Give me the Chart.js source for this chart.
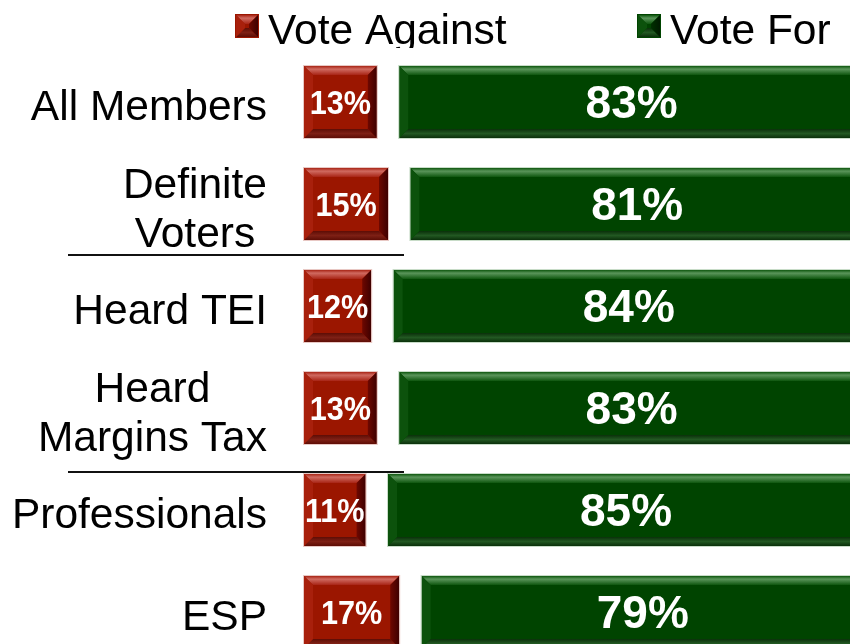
<!DOCTYPE html>
<html>
<head>
<meta charset="utf-8">
<script src="https://cdn.jsdelivr.net/npm/chart.js@4"></script>
<style>
html,body{margin:0;padding:0;background:#fff;overflow:hidden;width:850px;height:644px;}
#wrap{position:absolute;left:0;top:0;width:864px;height:700px;}
</style>
</head>
<body>
<div id="wrap"><canvas id="c" width="864" height="700"></canvas></div>
<script>
// ---- data ----
const categories = [["All Members"], ["Definite", "Voters"], ["Heard TEI"], ["Heard", "Margins Tax"], ["Professionals"], ["ESP"]];
const voteAgainst = [13, 15, 12, 13, 11, 17];
const undecided = [4, 4, 4, 4, 4, 4];
const voteFor = [83, 81, 84, 83, 85, 79];
const seriesNames = ["Vote Against", "Undecided", "Vote For"];
const separatorsAfter = [1, 3];

const FONT = '"Liberation Sans", Arial, sans-serif';

const palette = {
  red:   {face:'#9b1600', top:['#d06a60','#a82415'], bottom:['#7e2015','#5e0d05'], left:'#a8200c', right:['#6e0800','#3e0000'], edge:'#e8c8c4'},
  green: {face:'#004400', top:['#5a955a','#0e560e'], bottom:['#225822','#0a300a'], left:'#0c520c', right:['#003000','#001a00'], edge:'#c8dcc8'}
};

function bevel(ctx, l, t, r, b, p) {
  const w = 9;
  ctx.save();
  let g = ctx.createLinearGradient(0, t, 0, t + w);
  g.addColorStop(0, p.top[1]); g.addColorStop(0.35, p.top[0]); g.addColorStop(1, p.top[1]);
  ctx.fillStyle = g;
  ctx.beginPath(); ctx.moveTo(l, t); ctx.lineTo(r, t); ctx.lineTo(r - w, t + w); ctx.lineTo(l + w, t + w); ctx.closePath(); ctx.fill();
  g = ctx.createLinearGradient(0, b - w, 0, b);
  g.addColorStop(0, p.bottom[1]); g.addColorStop(0.5, p.bottom[0]); g.addColorStop(1, p.bottom[1]);
  ctx.fillStyle = g;
  ctx.beginPath(); ctx.moveTo(l, b); ctx.lineTo(r, b); ctx.lineTo(r - w, b - w); ctx.lineTo(l + w, b - w); ctx.closePath(); ctx.fill();
  ctx.fillStyle = p.left;
  ctx.beginPath(); ctx.moveTo(l, t); ctx.lineTo(l + w, t + w); ctx.lineTo(l + w, b - w); ctx.lineTo(l, b); ctx.closePath(); ctx.fill();
  g = ctx.createLinearGradient(r - w, 0, r, 0);
  g.addColorStop(0, p.right[0]); g.addColorStop(1, p.right[1]);
  ctx.fillStyle = g;
  ctx.beginPath(); ctx.moveTo(r, t); ctx.lineTo(r - w, t + w); ctx.lineTo(r - w, b - w); ctx.lineTo(r, b); ctx.closePath(); ctx.fill();
  ctx.strokeStyle = p.edge; ctx.lineWidth = 1;
  ctx.strokeRect(l - 0.5, t - 0.5, r - l + 1, b - t + 1);
  ctx.restore();
}

const decorPlugin = {
  id: 'decor',
  afterDatasetsDraw(chart) {
    const ctx = chart.ctx;
    const yScale = chart.scales.y;
    [[0, palette.red], [2, palette.green]].forEach(([di, pal]) => {
      const meta = chart.getDatasetMeta(di);
      meta.data.forEach((el, i) => {
        const pr = el.getProps(['x', 'y', 'base', 'height'], true);
        const l = Math.min(pr.base, pr.x), r = Math.max(pr.base, pr.x);
        const t = pr.y - pr.height / 2, b = pr.y + pr.height / 2;
        bevel(ctx, l, t, r, b, pal);
        const v = chart.data.datasets[di].data[i];
        ctx.save();
        ctx.fillStyle = '#ffffff';
        ctx.textAlign = 'center';
        ctx.textBaseline = 'middle';
        const cx = (l + r) / 2, cy = pr.y + 3;
        if (di === 0) {
          ctx.translate(cx, cy);
          ctx.scale(0.9, 1);
          ctx.font = 'bold 34px ' + FONT;
          ctx.fillText(v + '%', 0, 0);
        } else {
          ctx.font = 'bold 46px ' + FONT;
          ctx.fillText(v + '%', cx, cy);
        }
        ctx.restore();
      });
    });
    ctx.save();
    ctx.font = '42.5px ' + FONT;
    ctx.fillStyle = '#000000';
    ctx.textBaseline = 'alphabetic';
    ctx.textAlign = 'center';
    const lh = 49, rightEdge = 267;
    categories.forEach((lines, i) => {
      const cy = yScale.getPixelForValue(i) + 3;
      const maxW = Math.max(...lines.map(s => ctx.measureText(s).width));
      const cx = rightEdge - maxW / 2;
      lines.forEach((s, k) => {
        const lineCenter = cy + (k - (lines.length - 1) / 2) * lh;
        ctx.fillText(s, cx, lineCenter + 15);
      });
    });
    ctx.restore();
    ctx.save();
    ctx.strokeStyle = '#111111';
    ctx.lineWidth = 2;
    const offs = [51, 64];
    separatorsAfter.forEach((idx, k) => {
      const y = Math.round(yScale.getPixelForValue(idx) + offs[k]);
      ctx.beginPath(); ctx.moveTo(68, y); ctx.lineTo(404, y); ctx.stroke();
    });
    ctx.restore();
    ctx.save();
    ctx.beginPath(); ctx.rect(0, 0, 864, 48); ctx.clip();
    const items = [[0, 236, palette.red], [2, 638, palette.green]];
    items.forEach(([di, x, pal]) => {
      ctx.fillStyle = pal.face;
      ctx.fillRect(x, 15, 22, 22);
      bevel(ctx, x, 15, x + 22, 37, Object.assign({}, pal, {edge: pal.face}));
      ctx.fillStyle = '#000';
      ctx.font = '42.5px ' + FONT;
      ctx.textAlign = 'left';
      ctx.textBaseline = 'alphabetic';
      ctx.fillText(chart.data.datasets[di].label, x + 32, 44);
    });
    ctx.restore();
  }
};

const labelLines = categories.map(l => l.join(' '));

new Chart(document.getElementById('c'), {
  type: 'bar',
  data: {
    labels: labelLines,
    datasets: [
      {label: seriesNames[0], data: voteAgainst, backgroundColor: palette.red.face, borderWidth: 0},
      {label: seriesNames[1], data: undecided, backgroundColor: 'rgba(0,0,0,0)', borderWidth: 0},
      {label: seriesNames[2], data: voteFor, backgroundColor: palette.green.face, borderWidth: 0}
    ]
  },
  options: {
    indexAxis: 'y',
    responsive: false,
    animation: false,
    devicePixelRatio: 1,
    categoryPercentage: 1,
    barPercentage: 0.706,
    layout: {padding: {left: 304, right: 0, top: 51, bottom: 37}},
    scales: {
      x: {stacked: true, min: 0, max: 100, display: false},
      y: {stacked: true, display: false}
    },
    plugins: {legend: {display: false}, tooltip: {enabled: false}}
  },
  plugins: [decorPlugin]
});
</script>
</body>
</html>
